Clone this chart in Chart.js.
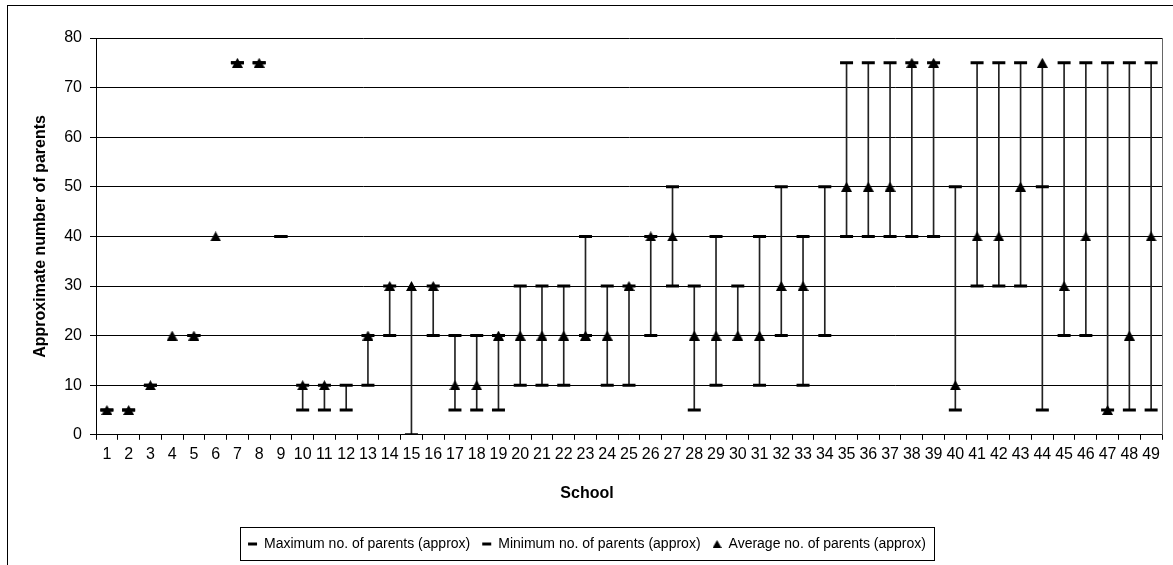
<!DOCTYPE html>
<html><head><meta charset="utf-8">
<script src="https://cdn.jsdelivr.net/npm/chart.js@4.4.1/dist/chart.umd.min.js"></script>
<style>html,body{margin:0;padding:0;background:#fff}canvas{display:block}</style>
</head><body>
<canvas id="c" width="1173" height="565"></canvas>
<script>
const schools = ['1','2','3','4','5','6','7','8','9','10','11','12','13','14','15','16','17','18','19','20','21','22','23','24','25','26','27','28','29','30','31','32','33','34','35','36','37','38','39','40','41','42','43','44','45','46','47','48','49'];
const maxParents = [5,5,10,null,20,null,75,75,40,10,10,10,20,30,null,30,20,20,20,30,30,30,40,30,30,40,50,30,40,30,40,50,40,50,75,75,75,75,75,50,75,75,75,50,75,75,75,75,75];
const minParents = [5,5,10,null,20,null,75,75,40,5,5,5,10,20,0,20,5,5,5,10,10,10,20,10,10,20,30,5,10,null,10,20,10,20,40,40,40,40,40,5,30,30,30,5,20,20,5,5,5];
const avgParents = [5,5,10,20,20,40,75,75,null,10,10,null,20,30,30,30,10,10,20,20,20,20,20,20,30,40,40,20,20,20,20,30,30,null,50,50,50,75,75,10,40,40,50,75,30,40,5,20,40];
const yTicks = [0,10,20,30,40,50,60,70,80];

const FONT = "'Liberation Sans', Arial, sans-serif";

function makeTriangle(w, h) {
  const c = document.createElement('canvas');
  c.width = w; c.height = h;
  const g = c.getContext('2d');
  g.fillStyle = '#000';
  g.beginPath(); g.moveTo(0, h); g.lineTo(w / 2, 0); g.lineTo(w, h); g.closePath(); g.fill();
  return c;
}
const triMarker = makeTriangle(11, 10);
const triLegend = makeTriangle(9, 8);

// high-low line spans lowest to highest value of each school
const hiLo = schools.map((s, i) => {
  const v = [maxParents[i], minParents[i], avgParents[i]].filter(x => x != null);
  if (!v.length) return null;
  const lo = Math.min(...v), hi = Math.max(...v);
  return hi > lo ? [lo, hi] : null;
});

const framePlugin = {
  id: 'frame',
  beforeDraw(chart) {
    const ctx = chart.ctx;
    ctx.save();
    ctx.fillStyle = '#fff';
    ctx.fillRect(0, 0, chart.width, chart.height);
    ctx.restore();
  },
  afterDraw(chart) {
    const ctx = chart.ctx, a = chart.chartArea;
    ctx.save();
    ctx.strokeStyle = '#000';
    ctx.lineWidth = 1;
    ctx.strokeRect(7.5, 5.5, chart.width + 20, chart.height + 20);
    ctx.strokeStyle = '#666';
    ctx.beginPath(); ctx.moveTo(Math.round(a.right) + 0.5, a.top); ctx.lineTo(Math.round(a.right) + 0.5, a.bottom); ctx.stroke();
    const lg = chart.legend;
    if (lg && lg.legendHitBoxes && lg.legendHitBoxes.length) {
      const hb = lg.legendHitBoxes;
      const l = Math.min(...hb.map(h => h.left)), r = Math.max(...hb.map(h => h.left + h.width));
      const cy = hb[0].top + hb[0].height / 2;
      ctx.strokeStyle = '#000';
      ctx.strokeRect(Math.round(l - 8) + 0.5, Math.round(cy - 17) + 0.5, Math.round(r - l + 16), 33);
    }
    ctx.restore();
  }
};

new Chart(document.getElementById('c'), {
  type: 'bar',
  data: {
    labels: schools,
    datasets: [
      { type: 'bar', label: 'hilo', data: hiLo, backgroundColor: '#222', barThickness: 1, order: 10 },
      { type: 'line', label: 'Maximum no. of parents (approx)', data: maxParents, showLine: false,
        pointStyle: 'line', pointRadius: 6.5, pointHoverRadius: 6.5, pointBorderWidth: 3,
        borderColor: '#000', backgroundColor: '#000', order: 3 },
      { type: 'line', label: 'Minimum no. of parents (approx)', data: minParents, showLine: false,
        pointStyle: 'line', pointRadius: 6.5, pointHoverRadius: 6.5, pointBorderWidth: 3,
        borderColor: '#000', backgroundColor: '#000', order: 2 },
      { type: 'line', label: 'Average no. of parents (approx)', data: avgParents, showLine: false,
        pointStyle: triMarker, pointRadius: 6, borderColor: '#000', backgroundColor: '#000', order: 1 }
    ]
  },
  options: {
    responsive: false,
    animation: false,
    layout: { padding: { left: 12, right: 11, top: 38, bottom: 4 } },
    plugins: {
      tooltip: { enabled: false },
      title: {
        display: true, position: 'bottom', weight: 500,
        text: 'School', color: '#000',
        font: { family: FONT, size: 16, weight: 'bold' },
        padding: { top: 13, bottom: 22 }
      },
      legend: {
        position: 'bottom',
        labels: {
          font: { family: FONT, size: 14 },
          color: '#000',
          usePointStyle: true,
          pointStyleWidth: 9,
          boxHeight: 9,
          padding: 12,
          filter: (item) => item.text !== 'hilo',
          sort: (a, b) => a.datasetIndex - b.datasetIndex,
          generateLabels(chart) {
            const items = Chart.defaults.plugins.legend.labels.generateLabels(chart);
            items.forEach(it => {
              if (it.text.startsWith('Average')) { it.pointStyle = triLegend; }
              else if (it.text !== 'hilo') { it.pointStyle = 'line'; it.lineWidth = 3; it.strokeStyle = '#000'; }
            });
            return items;
          }
        }
      }
    },
    scales: {
      x: {
        offset: true,
        grid: { offset: true, drawOnChartArea: false, drawTicks: true, tickLength: 5, color: '#000' },
        border: { color: '#000' },
        ticks: { autoSkip: false, maxRotation: 0, minRotation: 0, font: { family: FONT, size: 16 }, color: '#000', padding: 5 },
        afterFit: (s) => { s.height = 36; }
      },
      y: {
        min: 0, max: 80,
        afterBuildTicks: (s) => { s.ticks = yTicks.map(v => ({ value: v })); },
        grid: { color: '#000', tickLength: 6 },
        border: { color: '#000' },
        ticks: { font: { family: FONT, size: 16 }, color: '#000', padding: 8 },
        title: { display: true, text: 'Approximate number of parents', font: { family: FONT, size: 16, weight: 'bold' }, color: '#000', padding: { top: 19, bottom: 0 } },
        afterFit: (s) => { s.width = 84; }
      }
    }
  },
  plugins: [framePlugin]
});
</script>
</body></html>
